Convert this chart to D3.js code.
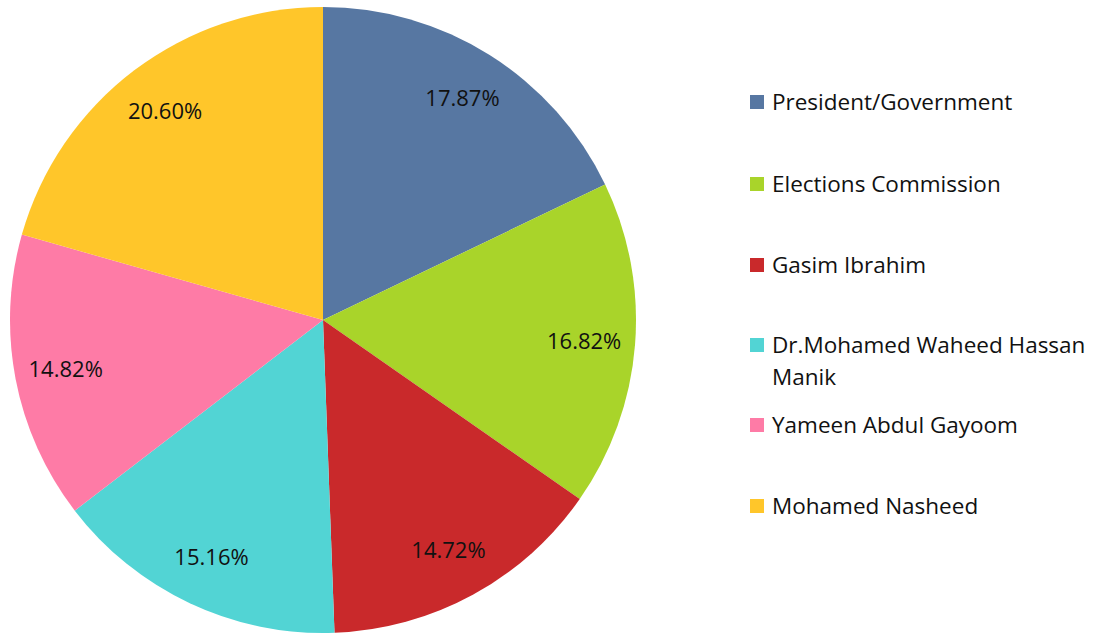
<!DOCTYPE html>
<html>
<head>
<meta charset="utf-8">
<script src="https://cdn.jsdelivr.net/npm/d3@7"></script>
<style>
  body { margin: 0; background: #fff; }
  text { font-family: "Open Sans", "Liberation Sans", sans-serif; }
</style>
</head>
<body>
<svg width="1104" height="635"></svg>
<script>
// data
var categories = ["President/Government", "Elections Commission", "Gasim Ibrahim",
                  "Dr.Mohamed Waheed Hassan Manik", "Yameen Abdul Gayoom", "Mohamed Nasheed"];
var values = [17.87, 16.82, 14.72, 15.16, 14.82, 20.60];
var colours = ["#5777A2", "#A9D42A", "#C9292B", "#52D4D4", "#FE7BA6", "#FFC62A"];

var svg = d3.select("svg"),
    cx = 323, cy = 320, radius = 313;

var pie = d3.pie().sort(null).value(d => d.value);
var arc = d3.arc().innerRadius(0).outerRadius(radius);
var labelArc = d3.arc().innerRadius(262).outerRadius(262);

var data = categories.map((c, i) => ({name: c, value: values[i], colour: colours[i]}));

var g = svg.append("g").attr("transform", "translate(" + cx + "," + cy + ")");

var slices = g.selectAll(".slice")
  .data(pie(data))
  .enter().append("g")
  .attr("class", "slice");

slices.append("path")
  .attr("d", arc)
  .attr("fill", d => d.data.colour);

slices.append("text")
  .attr("transform", d => "translate(" + labelArc.centroid(d) + ")")
  .attr("text-anchor", "middle")
  .attr("dy", "0.35em")
  .style("font-size", "22px")
  .style("fill", "#111")
  .text(d => d.data.value.toFixed(2) + "%");

// legend
var legend = svg.append("g").attr("transform", "translate(750,0)");
var rowY = [102, 184, 265, 345, 425, 506];

var item = legend.selectAll(".item")
  .data(data)
  .enter().append("g")
  .attr("class", "item")
  .attr("transform", (d, i) => "translate(0," + rowY[i] + ")");

item.append("rect")
  .attr("x", 0).attr("y", -7)
  .attr("width", 14).attr("height", 14)
  .attr("fill", d => d.colour);

item.append("text")
  .attr("x", 22)
  .attr("dy", "0.35em")
  .style("font-size", "22.5px")
  .style("fill", "#111")
  .each(function(d) {
    var t = d3.select(this);
    if (d.name === "Dr.Mohamed Waheed Hassan Manik") {
      t.append("tspan").attr("x", 22).text("Dr.Mohamed Waheed Hassan");
      t.append("tspan").attr("x", 22).attr("dy", 32).text("Manik");
    } else {
      t.text(d.name);
    }
  });
</script>
</body>
</html>
